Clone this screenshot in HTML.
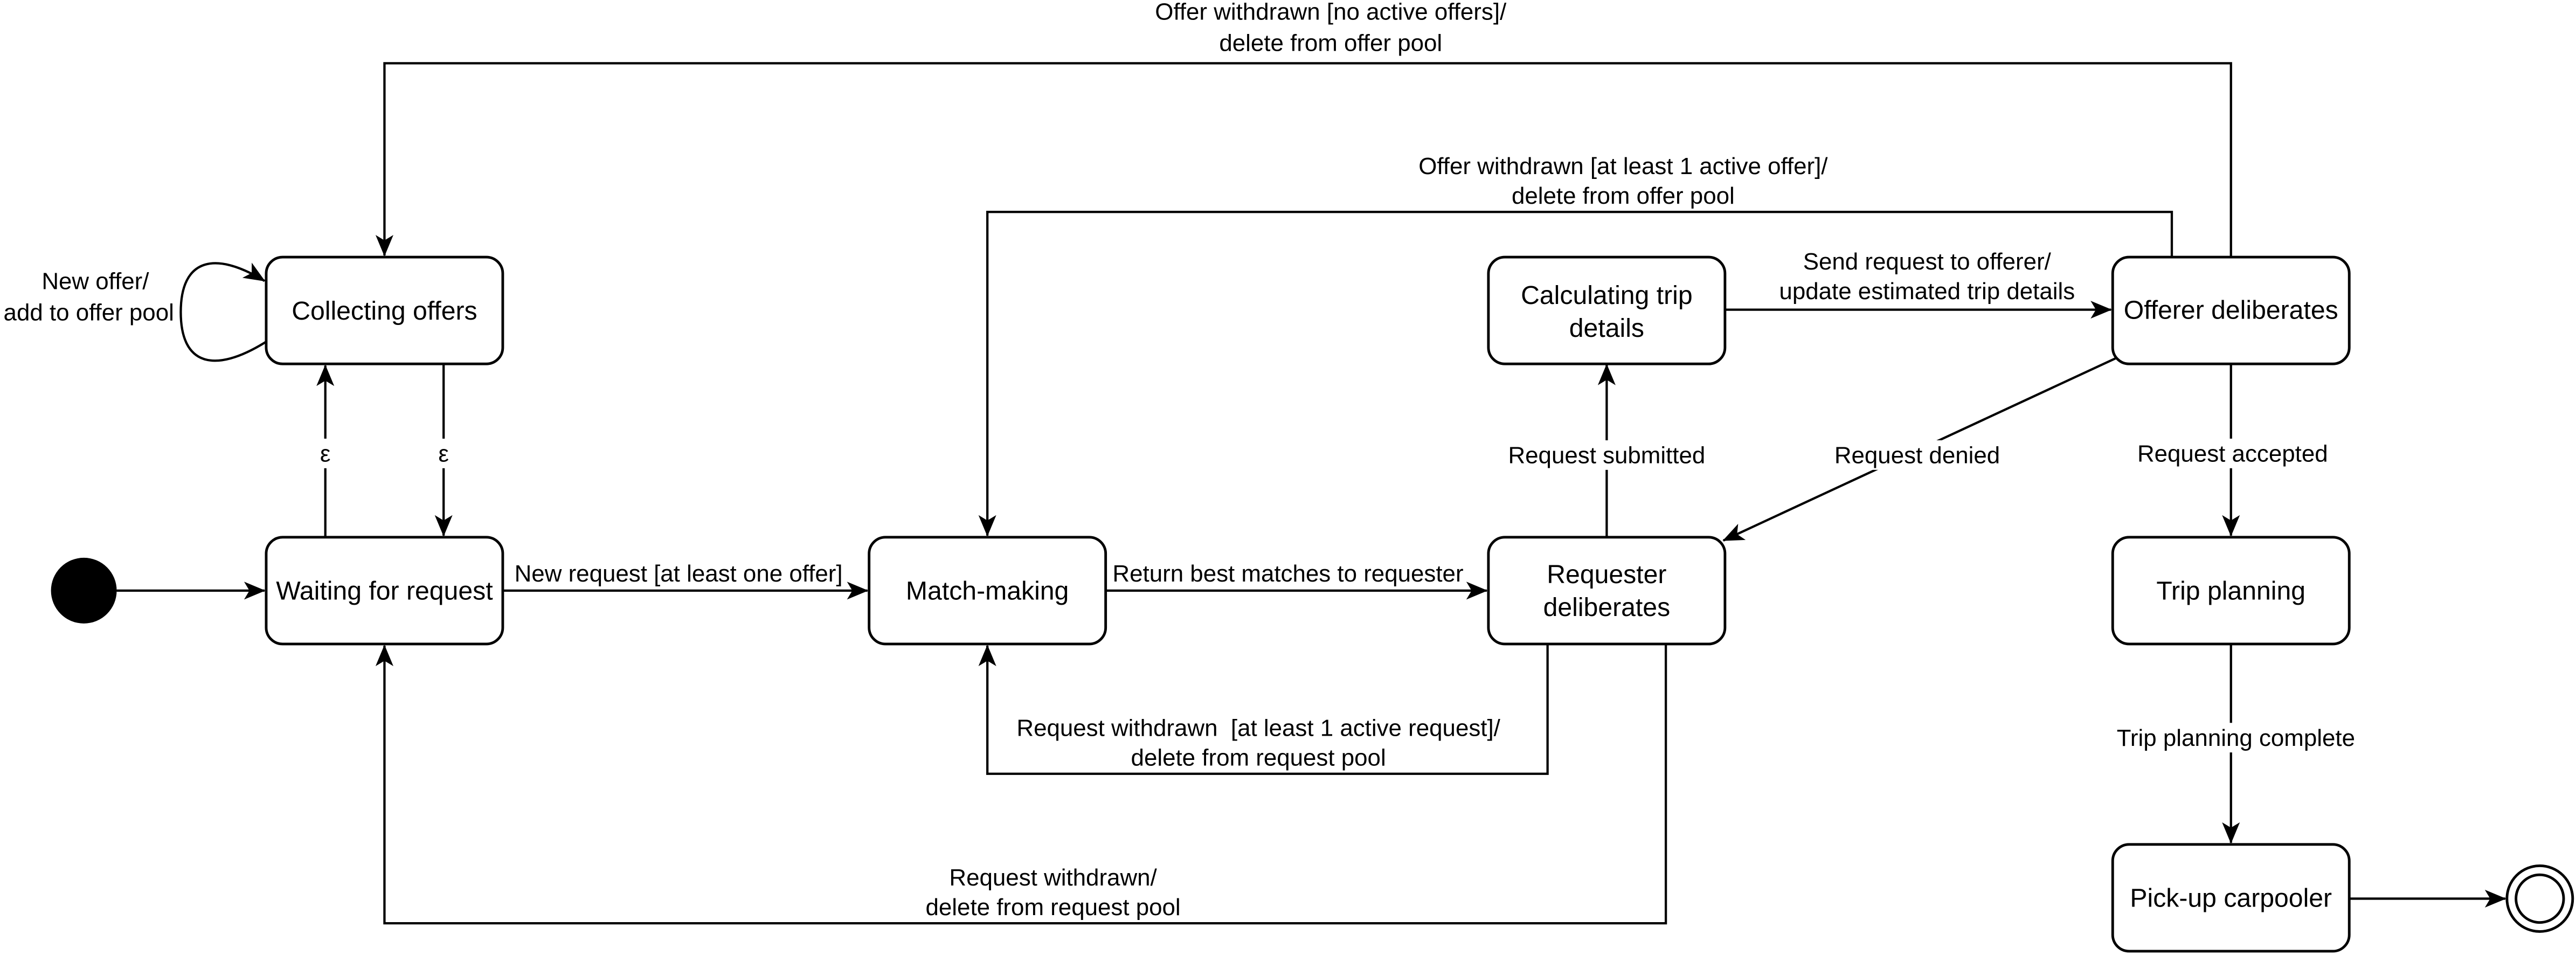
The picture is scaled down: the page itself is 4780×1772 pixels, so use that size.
<!DOCTYPE html>
<html><head><meta charset="utf-8"><style>
html,body{margin:0;padding:0;background:#fff}
svg{display:block}
text{font-family:"Liberation Sans",Arial,sans-serif;fill:#000;white-space:pre}
</style></head><body>
<svg width="4780" height="1772" viewBox="0 0 1568 581.3" xmlns="http://www.w3.org/2000/svg">
<defs>
<marker id="a" viewBox="0 0 12 10" refX="11.5" refY="5" markerWidth="13" markerHeight="11" markerUnits="userSpaceOnUse" orient="auto">
<path d="M0,0 L12,5 L0,10 L3,5 z" fill="#000"/>
</marker>
</defs>
<g fill="none" stroke="#000" stroke-width="1.6">
<rect x="162" y="156.5" width="144" height="65" rx="10"/>
<rect x="162" y="327" width="144" height="65" rx="10"/>
<rect x="529" y="327" width="144" height="65" rx="10"/>
<rect x="906" y="327" width="144" height="65" rx="10"/>
<rect x="906" y="156.5" width="144" height="65" rx="10"/>
<rect x="1286" y="156.5" width="144" height="65" rx="10"/>
<rect x="1286" y="327" width="144" height="65" rx="10"/>
<rect x="1286" y="514" width="144" height="65" rx="10"/>
<circle cx="1546" cy="547" r="20"/>
<circle cx="1546" cy="547" r="14.5"/>
</g>
<circle cx="51" cy="359.5" r="20" fill="#000"/>
<g fill="none" stroke="#000" stroke-width="1.4">
<path d="M71,359.5 H161" marker-end="url(#a)"/>
<path d="M306,359.5 H528" marker-end="url(#a)"/>
<path d="M673,359.5 H905" marker-end="url(#a)"/>
<path d="M978,327 V222" marker-end="url(#a)"/>
<path d="M1050,188.5 H1285" marker-end="url(#a)"/>
<path d="M1288,218 L1049,329" marker-end="url(#a)"/>
<path d="M1358,221.5 V326" marker-end="url(#a)"/>
<path d="M1358,392 V513" marker-end="url(#a)"/>
<path d="M1430,547 H1525" marker-end="url(#a)"/>
<path d="M1358,156.5 V38.5 H234 V155.5" marker-end="url(#a)"/>
<path d="M1322,156.5 V129 H601 V326" marker-end="url(#a)"/>
<path d="M942,392 V471 H601 V393" marker-end="url(#a)"/>
<path d="M1014,392 V562 H234 V393" marker-end="url(#a)"/>
<path d="M198,327 V222.5" marker-end="url(#a)"/>
<path d="M270,221.5 V326" marker-end="url(#a)"/>
<path d="M162,208 C130,228 110,222 110,190 C110,158 130,152 161,171" marker-end="url(#a)"/>
</g>
<g fill="#fff">
<rect x="912" y="268" width="132" height="18"/>
<rect x="1106" y="268" width="122" height="18"/>
<rect x="1294" y="267" width="130" height="18"/>
<rect x="1281" y="440" width="154" height="18"/>
<rect x="190" y="267" width="16" height="18"/>
<rect x="262" y="267" width="16" height="18"/>
<rect x="613" y="434" width="306" height="36"/>
</g>
<g font-size="15.8" text-anchor="middle">
<text x="234" y="194.5">Collecting offers</text>
<text x="234" y="365">Waiting for request</text>
<text x="601" y="365">Match-making</text>
<text x="978" y="355">Requester</text>
<text x="978" y="375">deliberates</text>
<text x="978" y="185">Calculating trip</text>
<text x="978" y="205">details</text>
<text x="1358" y="194">Offerer deliberates</text>
<text x="1358" y="365">Trip planning</text>
<text x="1358" y="552">Pick-up carpooler</text>
</g>
<g font-size="14.4" text-anchor="middle">
<text x="413" y="354">New request [at least one offer]</text>
<text x="784" y="354">Return best matches to requester</text>
<text x="978" y="282">Request submitted</text>
<text x="1173" y="164">Send request to offerer/</text>
<text x="1173" y="182">update estimated trip details</text>
<text x="1167" y="282">Request denied</text>
<text x="1359" y="281">Request accepted</text>
<text x="1361" y="454">Trip planning complete</text>
<text x="810" y="12">Offer withdrawn [no active offers]/</text>
<text x="810" y="31">delete from offer pool</text>
<text x="988" y="106">Offer withdrawn [at least 1 active offer]/</text>
<text x="988" y="124">delete from offer pool</text>
<text x="766" y="448">Request withdrawn  [at least 1 active request]/</text>
<text x="766" y="466">delete from request pool</text>
<text x="641" y="539">Request withdrawn/</text>
<text x="641" y="557">delete from request pool</text>
<text x="198" y="281">ε</text>
<text x="270" y="281">ε</text>
<text x="58" y="176">New offer/</text>
<text x="54" y="195">add to offer pool</text>
</g>
</svg>
</body></html>
